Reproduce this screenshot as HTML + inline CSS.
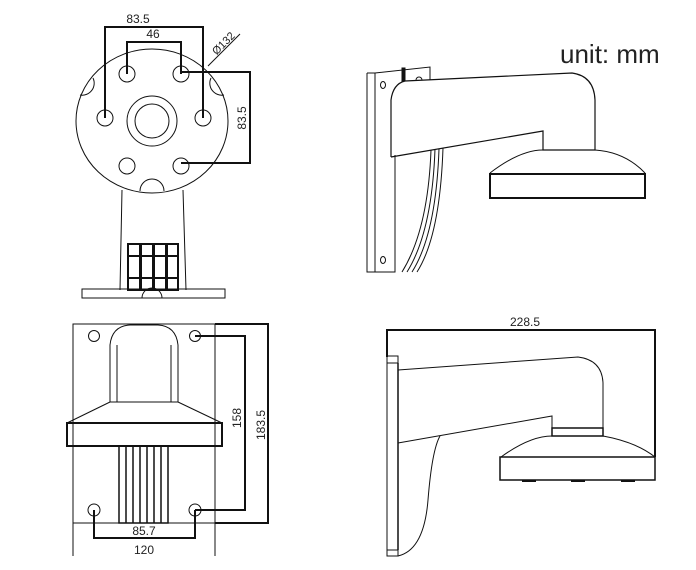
<!DOCTYPE html>
<html><head><meta charset="utf-8"><style>
html,body{margin:0;padding:0;background:#fff;width:696px;height:570px;overflow:hidden}
svg{display:block}
text{font-family:"Liberation Sans",sans-serif;fill:#222}
</style></head><body>
<svg width="696" height="570" viewBox="0 0 696 570" xmlns="http://www.w3.org/2000/svg" fill="none" stroke="#111" stroke-width="1">
<!-- ===== Top-left: front view ===== -->
<ellipse cx="152" cy="121" rx="76" ry="72"/>
<circle cx="152" cy="121" r="25"/>
<circle cx="152" cy="121" r="17"/>
<g>
<circle cx="127" cy="74" r="8"/><circle cx="181" cy="74" r="8"/>
<circle cx="105" cy="118" r="8"/><circle cx="203" cy="118" r="8"/>
<circle cx="127" cy="166" r="8"/><circle cx="181" cy="166" r="8"/>
</g>
<path d="M80 95 A12 12 0 0 0 93 78"/>
<path d="M224 95 A12 12 0 0 1 211 78"/>
<path d="M140 191 A12 12 0 0 1 164 191"/>
<path d="M122 190 L120 290 M183 190 L186 290"/>
<rect x="82" y="289" width="143" height="9"/>
<path d="M142 298 A10 10 0 0 1 162 298"/>
<g stroke-width="2">
<rect x="128" y="244" width="12" height="46"/><rect x="141" y="244" width="12" height="46"/>
<rect x="154" y="244" width="12" height="46"/><rect x="167" y="244" width="11" height="46"/>
<path d="M128 256 H178 M128 278 H178"/>
</g>
<g stroke-width="2">
<path d="M105 118 V27 H203 V118"/>
<path d="M127 74 V42 H181 V74"/>
<path d="M181 72 H250 V163 H181"/>
</g>
<path d="M208 66 L240 34"/>
<text x="138" y="23" font-size="12" fill="#222" stroke="none" text-anchor="middle">83.5</text>
<text x="153" y="38" font-size="12" fill="#222" stroke="none" text-anchor="middle">46</text>
<text x="0" y="0" font-size="12" stroke="none" text-anchor="middle" transform="translate(246,118) rotate(-90)">83.5</text>
<text x="0" y="0" font-size="11" stroke="none" text-anchor="middle" transform="translate(226,46) rotate(-45)">Ø132</text>

<!-- ===== Top-right: side view ===== -->
<text x="560" y="63" font-size="26" stroke="none">unit: mm</text>
<path d="M367 73 H375 L430 67 V80"/>
<path d="M367 73 V272 H395 V155"/>
<path d="M375 73 V272"/>
<ellipse cx="383" cy="85" rx="2.5" ry="3.5"/>
<ellipse cx="383" cy="260" rx="2.5" ry="3.5"/>
<path d="M416 80 A3 3 0 0 1 422 80"/>
<rect x="402" y="68" width="3" height="13" fill="#111"/>
<path d="M391 157 V100 Q393 84 405 81 L572 73 Q594 76 595 100 V150 H543 V131 L391 157" stroke-width="1.2"/>
<path d="M431 150 Q428 230 402 272 M435 149 Q432 232 407 272 M439 149 Q436 234 412 272 M443 148 Q440 236 417 272"/>
<path d="M490 173 Q520 150 543 150 M595 150 Q625 152 645 173"/>
<rect x="490" y="174" width="155" height="24" stroke-width="2"/>

<!-- ===== Bottom-left: bottom view ===== -->
<rect x="73" y="324" width="142" height="199"/>
<path d="M73 523 V556 M215 523 V556"/>
<circle cx="94" cy="336" r="5.5"/><circle cx="195" cy="336" r="5.5"/>
<circle cx="94" cy="510" r="6"/><circle cx="195" cy="510" r="6"/>
<path d="M110 402 V345 Q112 326 130 325 H158 Q176 326 178 345 V402 Z" fill="#fff"/>
<path d="M117 402 V345 M171 402 V345"/>
<path d="M110 402 L67 423 H222 L178 402"/>
<rect x="67" y="423" width="155" height="23" stroke-width="2"/>
<rect x="119" y="446" width="49" height="77" stroke-width="1.5"/>
<path d="M126 446 V523 M133 446 V523 M140 446 V523 M147 446 V523 M154 446 V523 M161 446 V523" stroke-width="1.5"/>
<g stroke-width="2">
<path d="M195 336 H245 V510 H195"/>
<path d="M215 324 H268 V523 H215"/>
<path d="M94 510 V538 H195 V510"/>
</g>
<text x="0" y="0" font-size="12" stroke="none" text-anchor="middle" transform="translate(241,418) rotate(-90)">158</text>
<text x="0" y="0" font-size="12" stroke="none" text-anchor="middle" transform="translate(265,425) rotate(-90)">183.5</text>
<text x="144" y="535" font-size="12" stroke="none" text-anchor="middle">85.7</text>
<text x="144" y="554" font-size="12" stroke="none" text-anchor="middle">120</text>

<!-- ===== Bottom-right: side view with 228.5 ===== -->
<text x="525" y="326" font-size="12" stroke="none" text-anchor="middle">228.5</text>
<path d="M387 357 V330 H655 V457" stroke-width="2"/>
<rect x="387" y="356" width="11" height="200"/>
<path d="M387 363 H398 M387 550 H398"/>
<path d="M398 363 V550" stroke-width="1.5"/>
<path d="M398 370 L578 357 Q602 360 603 383 V428 M398 443 L552 416 V428"/>
<rect x="552" y="428" width="51" height="8" stroke-width="1.5"/>
<path d="M501 457 Q530 436 552 436 M603 436 Q636 442 655 457"/>
<rect x="500" y="457" width="155" height="23" stroke-width="1.5"/>
<path d="M522 481 H536 M571 481 H585 M621 481 H635" stroke-width="2"/>
<path d="M440 436 Q432 450 428 500 Q424 550 398 556"/>
</svg>
</body></html>
